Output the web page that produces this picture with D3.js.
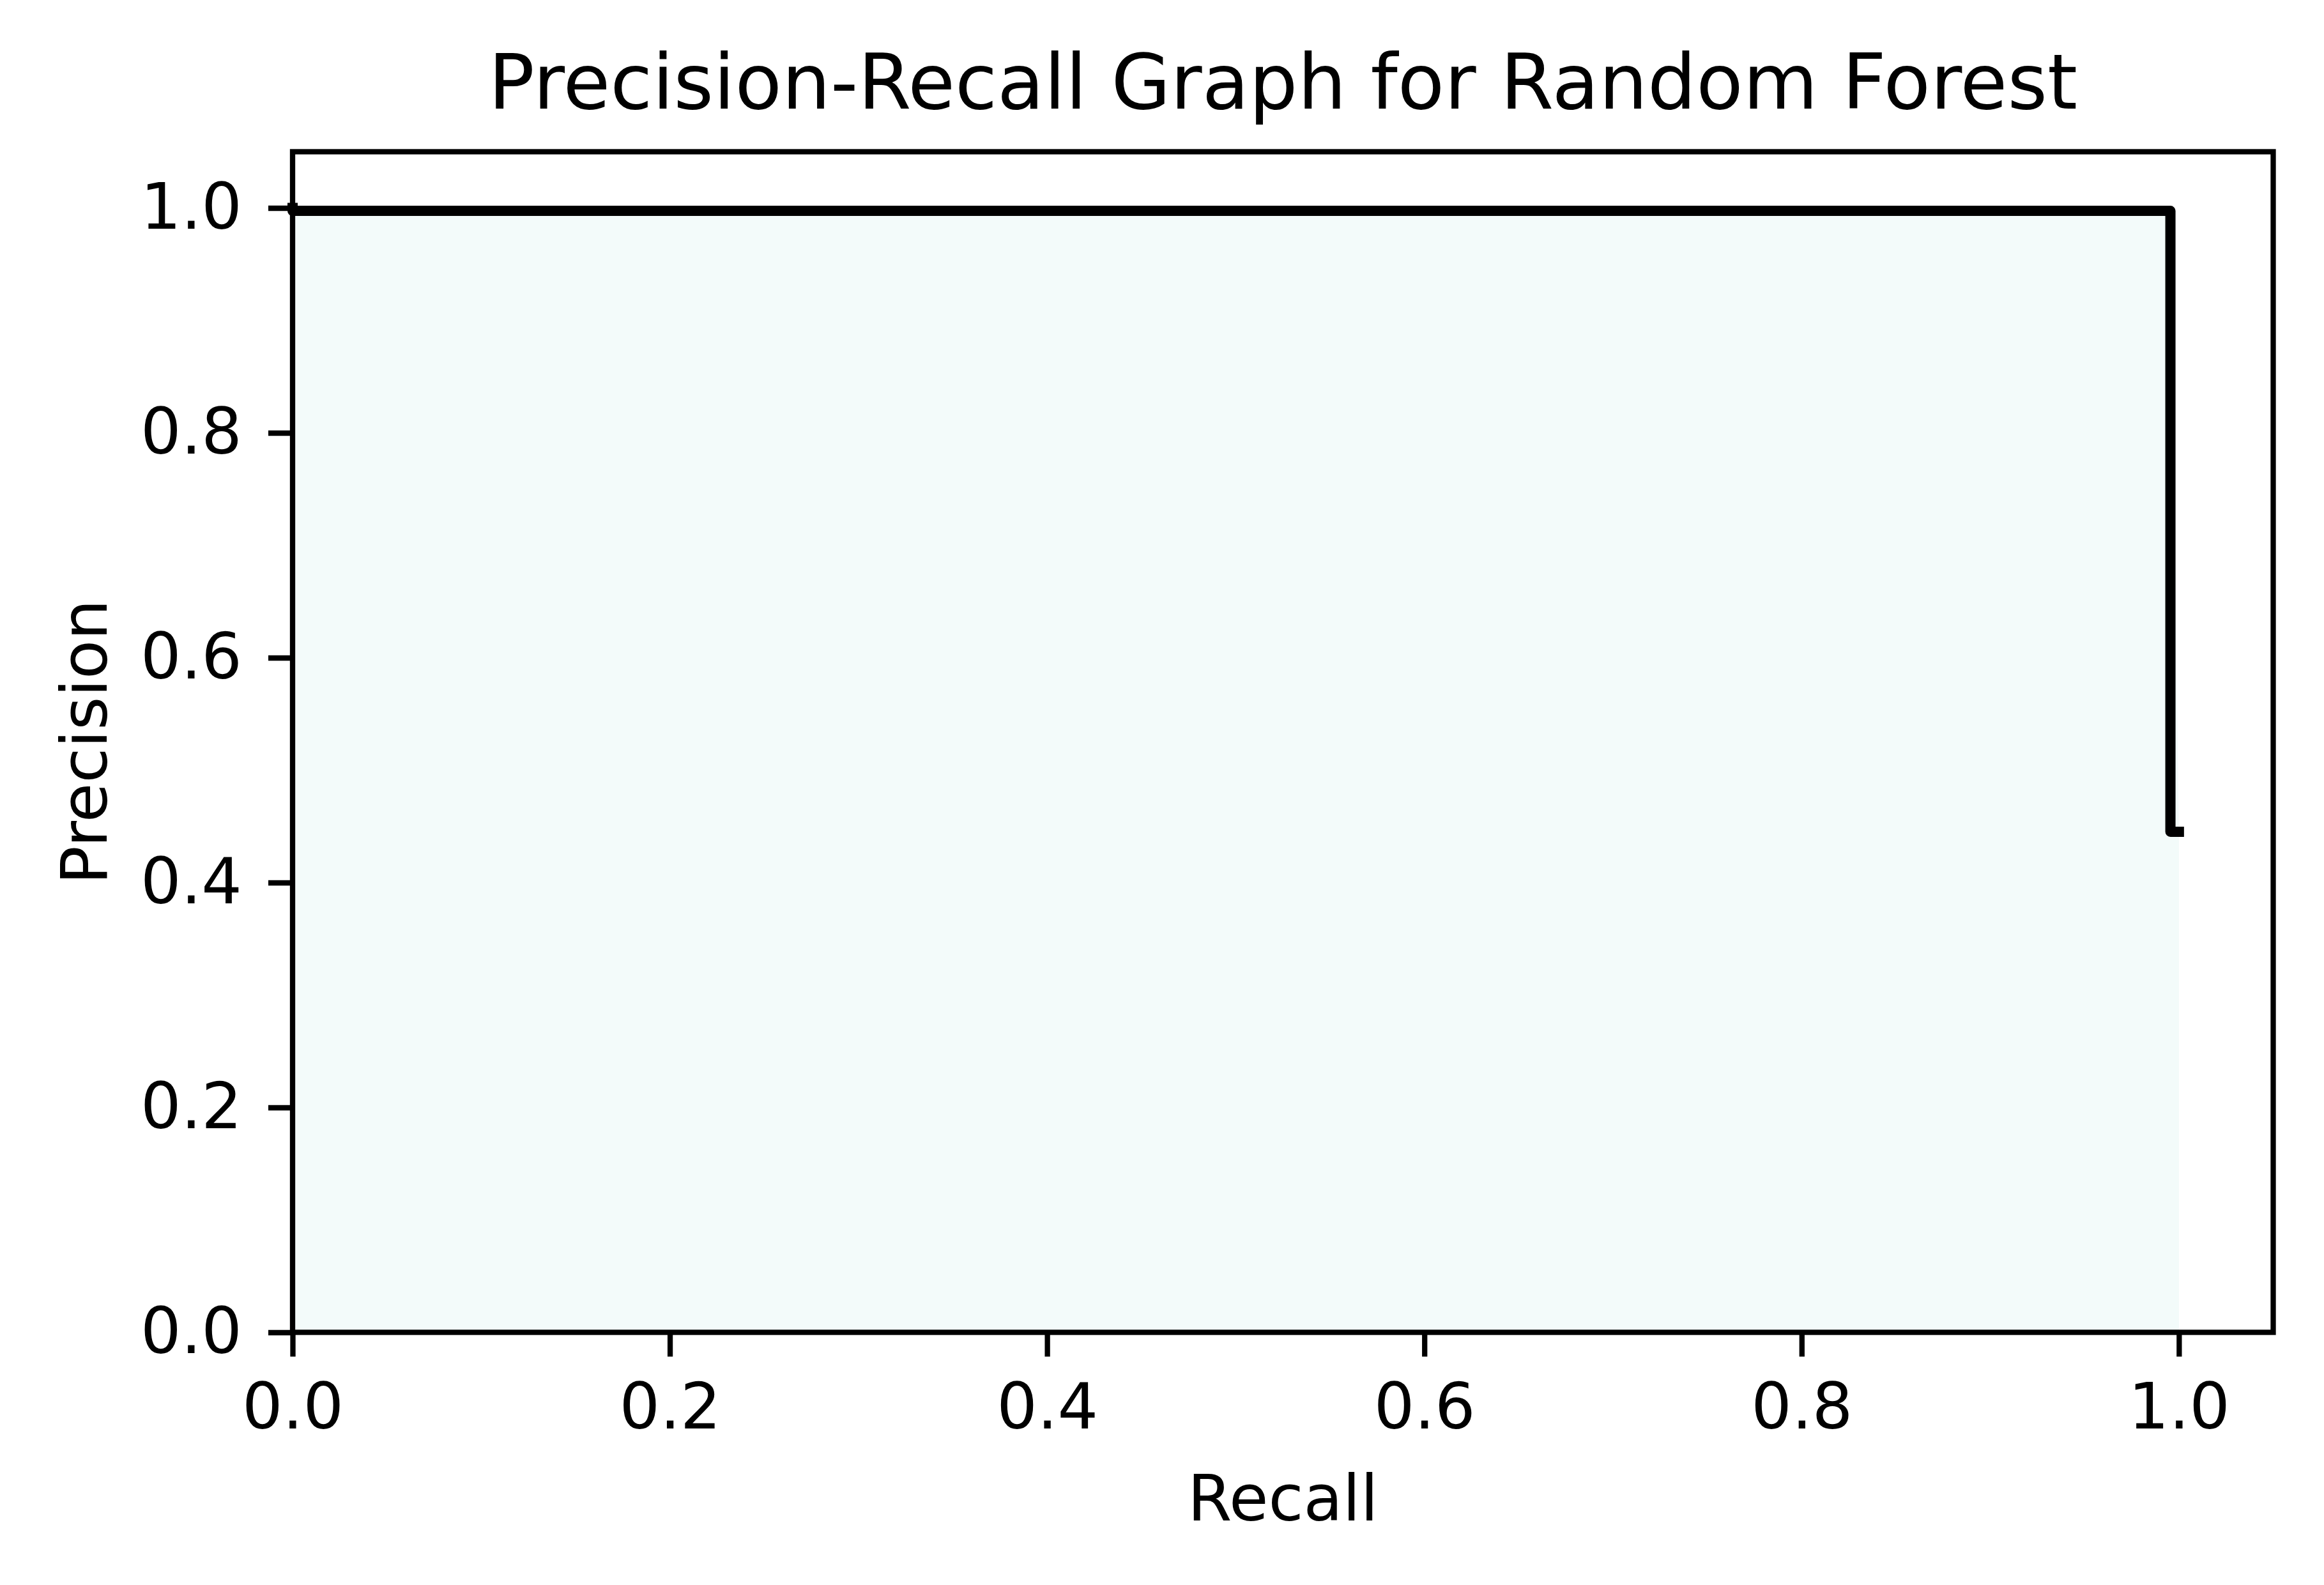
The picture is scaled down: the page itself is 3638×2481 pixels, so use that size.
<!DOCTYPE html>
<html>
<head>
<meta charset="utf-8">
<script src="https://cdn.jsdelivr.net/npm/d3@7"></script>
<style>
    body { margin: 0; background: #ffffff; }
    text { font-family: "DejaVu Sans", sans-serif; fill: #000; }
</style>
</head>
<body>
<div id="prPlot"></div>
<script>
// Precision-recall points, in the order the curve is returned (recall descending)
const recall = [1.0, 0.9955, 0.0];
const precision = [0.4452, 0.9974, 1.0];

const xTicks = [0.0, 0.2, 0.4, 0.6, 0.8, 1.0];
const yTicks = [0.0, 0.2, 0.4, 0.6, 0.8, 1.0];

const title = "Precision-Recall Graph for Random Forest";
const xLabel = "Recall";
const yLabel = "Precision";

function drawPRCurve() {
    const totalWidth = 3638, totalHeight = 2481;
    const margin = { top: 237.5, right: 79.5, bottom: 395.5, left: 458 };
    const width = totalWidth - margin.left - margin.right;
    const height = totalHeight - margin.top - margin.bottom;

    d3.select("#prPlot").selectAll("*").remove();

    const svg = d3.select("#prPlot").append("svg")
        .attr("width", totalWidth)
        .attr("height", totalHeight)
        .style("display", "block")
        .append("g")
        .attr("transform", "translate(" + margin.left + "," + margin.top + ")");

    // Set the scales
    const x = d3.scaleLinear().domain([0, 1.05]).range([0, width]);
    const y = d3.scaleLinear().domain([0, 1.05]).range([height, 0]);

    const points = recall.map((r, i) => ({ r: r, p: precision[i] }));

    // Shaded area under the curve (linear between points)
    const area = d3.area()
        .x(d => x(d.r))
        .y0(y(0))
        .y1(d => y(d.p));

    svg.append("path")
        .datum(points)
        .attr("d", area)
        .style("fill", "#f3fbfa")
        .style("stroke", "none");

    // Step line (post)
    const line = d3.line()
        .x(d => x(d.r))
        .y(d => y(d.p))
        .curve(d3.curveStepAfter);

    svg.append("path")
        .datum(points)
        .attr("d", line)
        .style("fill", "none")
        .style("stroke", "#000")
        .style("stroke-width", 16)
        .style("stroke-linecap", "square")
        .style("stroke-linejoin", "round");

    // Axes
    const xAxis = d3.axisBottom(x)
        .tickValues(xTicks)
        .tickSize(38)
        .tickPadding(41)
        .tickFormat(d3.format(".1f"));
    const yAxis = d3.axisLeft(y)
        .tickValues(yTicks)
        .tickSize(38)
        .tickPadding(41)
        .tickFormat(d3.format(".1f"));

    const gx = svg.append("g")
        .attr("transform", "translate(0," + height + ")")
        .call(xAxis);
    const gy = svg.append("g")
        .call(yAxis);

    [gx, gy].forEach(g => {
        g.select(".domain").remove();
        g.selectAll(".tick line").style("stroke", "#000").style("stroke-width", 8.3);
        g.selectAll(".tick text")
            .style("font-family", "'DejaVu Sans', sans-serif")
            .style("font-size", "100px")
            .style("fill", "#000");
    });

    // Spines on top
    svg.append("rect")
        .attr("x", 0)
        .attr("y", 0)
        .attr("width", width)
        .attr("height", height)
        .style("fill", "none")
        .style("stroke", "#000")
        .style("stroke-width", 8.3)
        .style("stroke-linejoin", "miter");

    // Axis labels
    svg.append("text")
        .attr("x", width / 2)
        .attr("y", 2380 - margin.top)
        .attr("text-anchor", "middle")
        .style("font-size", "100px")
        .text(xLabel);

    svg.append("text")
        .attr("transform", "rotate(-90)")
        .attr("x", -height / 2)
        .attr("y", 167 - margin.left)
        .attr("text-anchor", "middle")
        .style("font-size", "100px")
        .text(yLabel);

    // Title
    svg.append("text")
        .attr("x", width / 2)
        .attr("y", 170 - margin.top)
        .attr("text-anchor", "middle")
        .style("font-size", "120px")
        .text(title);
}

drawPRCurve();
</script>
</body>
</html>
